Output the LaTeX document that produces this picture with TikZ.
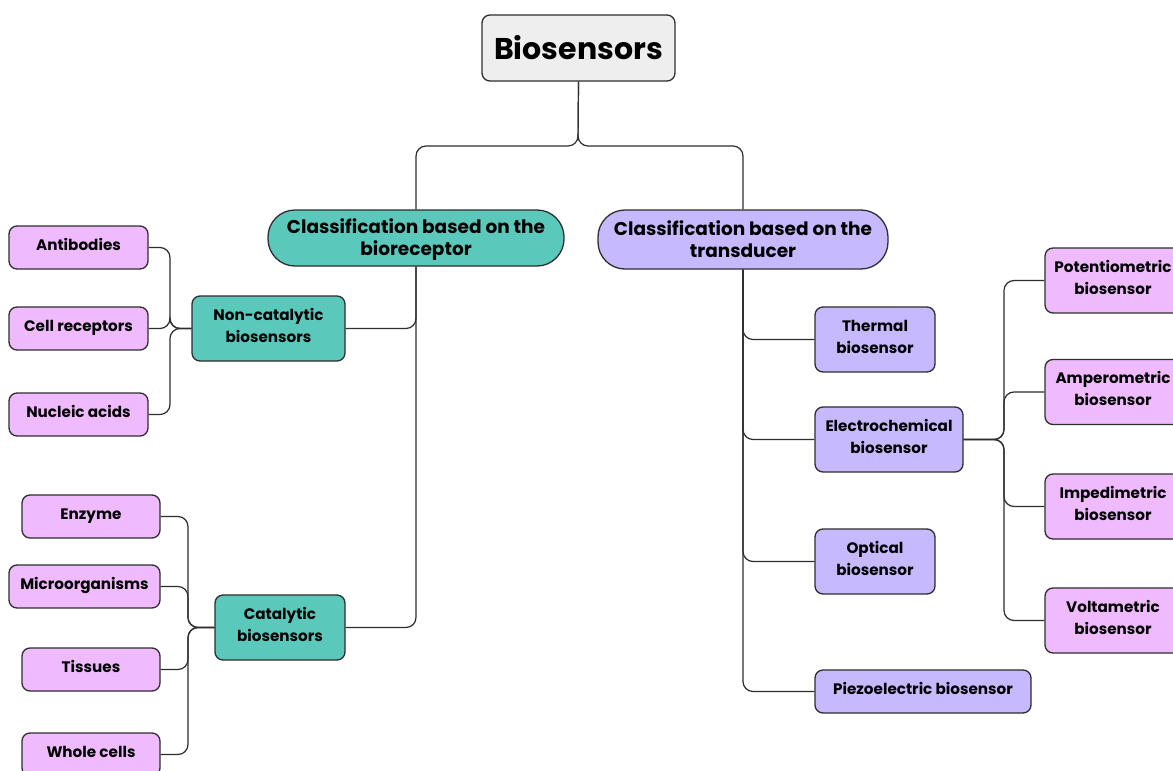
\documentclass[tikz,border=0pt]{standalone}
\usepackage{fontspec}
\setmainfont{Poppins}
\definecolor{greybox}{HTML}{EEEEEE}
\definecolor{tealbox}{HTML}{5BC8BC}
\definecolor{lilacbox}{HTML}{C6B9FD}
\definecolor{pinkbox}{HTML}{F0BBFE}
\definecolor{edge}{HTML}{2E2E2E}
\tikzset{
  box/.style={draw=edge, line width=1.3pt, rounded corners=8pt, align=center,
    inner sep=0pt, font=\bfseries\fontsize{15.2}{22}\selectfont},
  leaf/.style={box, fill=pinkbox, minimum height=43pt, text height=11pt, text depth=6pt},
  branch/.style={box, minimum height=65pt, text height=33pt, text depth=6pt},
  pill/.style={box, rounded corners=27pt, text height=40pt, text depth=5pt,
    font=\bfseries\fontsize{18.5}{22}\selectfont},
  link/.style={draw=edge, line width=1.2pt, rounded corners=10pt}
}
\begin{document}
\begin{tikzpicture}[x=1pt, y=-1pt]
\clip (0,0) rectangle (1173,771);
\fill[white] (0,0) rectangle (1173,771);

  % top
  \node[box, fill=greybox, minimum width=193pt, minimum height=66pt,
    font=\bfseries\fontsize{30}{34}\selectfont] (root) at (578.5,48) {Biosensors};
  \node[pill, fill=tealbox, minimum width=296pt, minimum height=56pt] (recep) at (416,238)
    {Classification based on the\\bioreceptor};
  \node[pill, fill=lilacbox, minimum width=290pt, minimum height=59pt] (transd) at (743,239.5)
    {Classification based on the\\transducer};

  \coordinate (split) at (578,146);
  \draw[link] (root.south) -- (split) -| (recep.north);
  \draw[link] (root.south) -- (split) -| (transd.north);

  % bioreceptor side
  \node[branch, fill=tealbox, minimum width=153pt] (noncat) at (268.5,328.5) {Non-catalytic\\biosensors};
  \node[branch, fill=tealbox, minimum width=130pt] (cat) at (280,627.5) {Catalytic\\biosensors};
  \draw[link] (recep.south) |- (noncat.east);
  \draw[link] (recep.south) |- (cat.east);

  \coordinate (ncj) at (170,328.5);
  \foreach \name/\x/\y/\w/\txt in {antib/78.5/247.5/139/Antibodies,
      cellr/78.5/328.5/139/Cell receptors, nucl/78.5/414.5/139/Nucleic acids} {%
    \node[leaf, minimum width=\w pt] (\name) at (\x,\y) {\txt};
    \draw[link] (noncat.west) -- (ncj) |- (\name.east);
  }

  \coordinate (catj) at (188,627.5);
  \foreach \name/\x/\y/\w/\txt in {enz/91/516.5/138/Enzyme,
      micro/84.5/586.5/151/Microorganisms, tiss/91/669.5/138/Tissues,
      whole/91/754.5/138/Whole cells} {%
    \node[leaf, minimum width=\w pt] (\name) at (\x,\y) {\txt};
    \draw[link] (cat.west) -- (catj) |- (\name.east);
  }

  % transducer side
  \foreach \name/\x/\y/\w/\txt in {thermal/875/339.5/120/Thermal\\biosensor,
      electro/889/439.5/148/Electrochemical\\biosensor,
      optical/875/561.5/120/Optical\\biosensor} {%
    \node[branch, fill=lilacbox, minimum width=\w pt] (\name) at (\x,\y) {\txt};
    \draw[link] (transd.south) |- (\name.west);
  }
  \node[leaf, fill=lilacbox, minimum width=216pt] (piezo) at (923,691.5) {Piezoelectric biosensor};
  \draw[link] (transd.south) |- (piezo.west);

  \coordinate (ecj) at (1004,439.5);
  \foreach \name/\y/\txt in {poten/280.5/Potentiometric, ampero/392/Amperometric,
      imped/506.5/Impedimetric, voltam/620.5/Voltametric} {%
    \node[branch, fill=pinkbox, minimum width=136pt] (\name) at (1113,\y) {\txt\\biosensor};
    \draw[link] (electro.east) -- (ecj) |- (\name.west);
  }
\end{tikzpicture}
\end{document}
